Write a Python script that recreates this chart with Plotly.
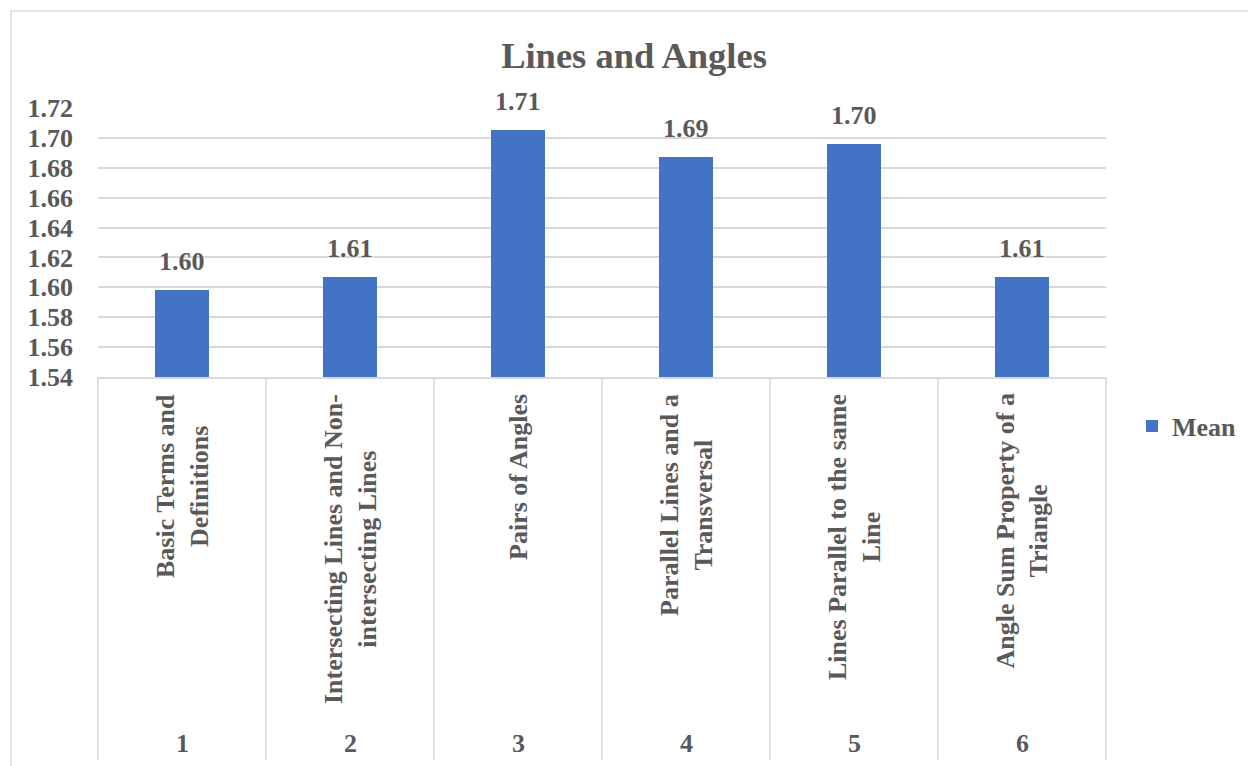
import plotly.graph_objects as go

# Data
categories = [
    "Basic Terms and<br>Definitions",
    "Intersecting Lines and Non-<br>intersecting Lines",
    "Pairs of Angles",
    "Parallel Lines and a<br>Transversal",
    "Lines Parallel to the same<br>Line",
    "Angle Sum Property of a<br>Triangle",
]
category_numbers = [1, 2, 3, 4, 5, 6]
mean_values = [1.598, 1.607, 1.705, 1.687, 1.696, 1.607]
y_ticks = [1.54, 1.56, 1.58, 1.60, 1.62, 1.64, 1.66, 1.68, 1.70, 1.72]
series_name = "Mean"
title_text = "Lines and Angles"

# Layout geometry (pixels)
W, H = 1248, 766
L, R, T, B = 98, 1106, 108, 377

FONT = "Liberation Serif, Times New Roman, serif"
FS = 26
TEXT = "#595959"
GRID = "#D9D9D9"
BAR = "#4472C4"


def px_x(p):
    return (p - L) / (R - L)


def px_y(p):
    return (B - p) / (B - T)


fig = go.Figure()
fig.add_trace(go.Bar(
    x=category_numbers,
    y=mean_values,
    name=f"<b>{series_name}</b>",
    marker=dict(color=BAR, line=dict(width=0)),
    width=0.32,
    showlegend=True,
))

annotations = []
# value labels above bars
for xv, yv in zip(category_numbers, mean_values):
    annotations.append(dict(
        x=xv, y=yv, xref="x", yref="y", text=f"<b>{yv:.2f}</b>",
        showarrow=False, yanchor="bottom", xanchor="center", yshift=12,
        font=dict(family=FONT, size=FS, color=TEXT),
    ))
# rotated category names and category numbers
for xv, name in zip(category_numbers, categories):
    annotations.append(dict(
        x=xv, y=px_y(392), xref="x", yref="paper", text=f"<b>{name}</b>",
        showarrow=False, textangle=-90, align="center",
        xanchor="center", yanchor="top",
        font=dict(family=FONT, size=FS, color=TEXT),
    ))
    annotations.append(dict(
        x=xv, y=px_y(743), xref="x", yref="paper", text=f"<b>{xv}</b>",
        showarrow=False, xanchor="center", yanchor="middle",
        font=dict(family=FONT, size=FS, color=TEXT),
    ))

shapes = []
# category separators below the axis
n = len(categories)
for k in range(n + 1):
    shapes.append(dict(
        type="line", xref="paper", yref="paper",
        x0=k / n, x1=k / n, y0=0, y1=px_y(760),
        line=dict(color=GRID, width=1.5),
    ))
# chart area border
shapes.append(dict(
    type="rect", xref="paper", yref="paper",
    x0=px_x(11), x1=px_x(1270), y0=px_y(790), y1=px_y(11),
    line=dict(color=GRID, width=1.5), fillcolor="rgba(0,0,0,0)", layer="below",
))

fig.update_layout(
    width=W, height=H,
    margin=dict(l=L, r=W - R, t=T, b=H - B, pad=0, autoexpand=False),
    paper_bgcolor="white", plot_bgcolor="white",
    font=dict(family=FONT, size=FS, color=TEXT),
    title=dict(
        text=f"<b>{title_text}</b>", xref="container", yref="container",
        x=634 / W, xanchor="center", y=1 - 55 / H, yanchor="middle",
        font=dict(family=FONT, size=36.5, color=TEXT),
    ),
    xaxis=dict(
        range=[0.5, 6.5], showticklabels=False, ticks="",
        showgrid=False, zeroline=False,
        showline=True, linecolor=GRID, linewidth=1.5,
    ),
    yaxis=dict(
        range=[1.54, 1.72], tickvals=y_ticks,
        ticktext=[f"<b>{v:.2f}</b>" for v in y_ticks],
        showgrid=True, gridcolor=GRID, gridwidth=1.5,
        zeroline=False, showline=False, ticks="",
        ticklabelstandoff=24,
        tickfont=dict(family=FONT, size=FS, color=TEXT),
    ),
    legend=dict(
        x=px_x(1132), y=px_y(426), xanchor="left", yanchor="middle",
        font=dict(family=FONT, size=FS, color=TEXT),
        bgcolor="rgba(0,0,0,0)", itemwidth=30,
    ),
    annotations=annotations,
    shapes=shapes,
    bargap=0,
)

fig.write_html("out.html")
